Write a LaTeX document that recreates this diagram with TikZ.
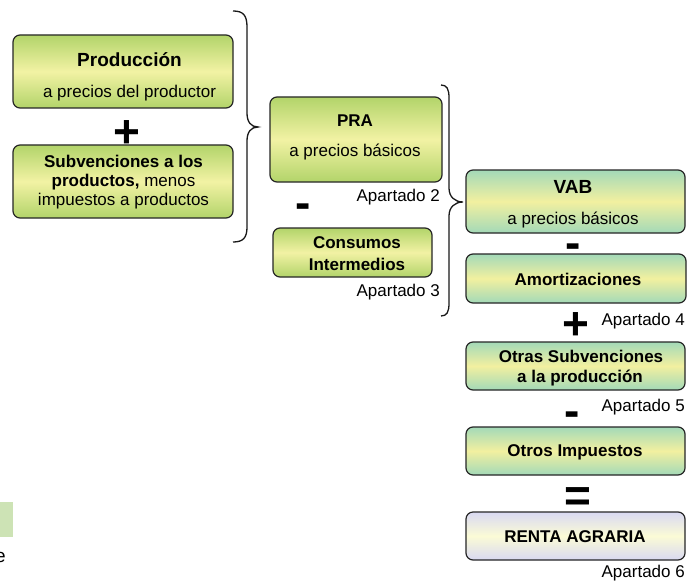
\documentclass[tikz,border=0pt]{standalone}
\usepackage{fontspec}
\setmainfont{Liberation Sans}
\definecolor{ygtop}{HTML}{B2D46A}
\definecolor{ygmid}{HTML}{F2F2A4}
\definecolor{tltop}{HTML}{A3D9B8}
\definecolor{tlmid}{HTML}{F2F0A0}
\definecolor{lvtop}{HTML}{D9D9F2}
\definecolor{lvmid}{HTML}{FBFBD6}
\definecolor{patch}{HTML}{CDE3B5}
\begin{document}
\begin{tikzpicture}[x=1pt,y=-1pt,
  box/.style={draw=black!85, line width=1.2pt, rounded corners=7pt, inner sep=0pt},
  yg/.style={box, top color=ygtop, bottom color=ygtop, middle color=ygmid},
  tl/.style={box, top color=tltop, bottom color=tltop, middle color=tlmid},
  lv/.style={box, top color=lvtop, bottom color=lvtop, middle color=lvmid},
  txt/.style={anchor=base, inner sep=0pt, font=\fontsize{17}{20}\selectfont},
  bt/.style={anchor=base, inner sep=0pt, font=\fontsize{17}{20}\selectfont\bfseries},
  big/.style={anchor=base, inner sep=0pt, font=\fontsize{19}{22}\selectfont\bfseries},
  op/.style={anchor=base, inner sep=0pt, font=\fontsize{46}{46}\selectfont\bfseries},
  lab/.style={anchor=base east, inner sep=0pt, font=\fontsize{17}{20}\selectfont},
  brace/.style={draw=black!90, line width=1.3pt}]
\fill[white] (0,0) rectangle (700,580);
\useasboundingbox (0,0) rectangle (700,580);

% left column
\node[yg, minimum width=220pt, minimum height=73pt] (prod) at (123,71.5) {};
\node[big] (prodT) at (129.5,67) {Producción};
\node[txt] (prodS) at (129.5,98) {a precios del productor};
\node[op] (plus1) at (127,148) {+};
\node[yg, minimum width=220pt, minimum height=73pt] (subv) at (123,181.5) {};
\node[bt] (subv1) at (123.5,167) {Subvenciones a los};
\node[txt] (subv2) at (123.5,186) {\textbf{productos,} menos};
\node[txt] (subv3) at (123.5,205) {impuestos a productos};

% brace 1
\draw[brace] (233,11) .. controls (243,11) and (247,15) .. (247,27) -- (247,113)
  .. controls (247,122) and (251,127) .. (258,127)
  .. controls (251,127) and (247,132) .. (247,141) -- (247,227)
  .. controls (247,238) and (243,242) .. (233,242);

% middle column
\node[yg, minimum width=172pt, minimum height=85pt] (pra) at (356,139.5) {};
\node[bt] (praT) at (355,127) {PRA};
\node[txt] (praS) at (355,157) {a precios básicos};
\node[lab] (ap2) at (440,201) {Apartado 2};
\node[op] (minus1) at (303,218) {-};
\node[yg, minimum width=159pt, minimum height=49pt] (cons) at (352.5,252.5) {};
\node[bt] (cons1) at (357,248) {Consumos};
\node[bt] (cons2) at (357,270) {Intermedios};
\node[lab] (ap3) at (440,296) {Apartado 3};

% brace 2
\draw[brace] (441,85) .. controls (447,85) and (449,89) .. (449,98) -- (449,188)
  .. controls (449,197) and (455,202) .. (463,202)
  .. controls (455,202) and (449,207) .. (449,216) -- (449,303)
  .. controls (449,312) and (447,316) .. (441,316);

% right column
\node[tl, minimum width=219pt, minimum height=63pt] (vab) at (575.5,201.5) {};
\node[big] (vabT) at (573,193) {VAB};
\node[txt] (vabS) at (573,224) {a precios básicos};
\node[op] (minus2) at (573.5,258) {-};
\node[tl, minimum width=220pt, minimum height=49pt] (amort) at (576,278.5) {};
\node[bt] (amortT) at (578,285) {Amortizaciones};
\node[op] (plus2) at (576,339) {+};
\node[lab] (ap4) at (685,325) {Apartado 4};
\node[tl, minimum width=219pt, minimum height=48pt] (otras) at (575.5,366) {};
\node[bt] (otras1) at (581,362) {Otras Subvenciones};
\node[bt] (otras2) at (580,382) {a la producción};
\node[lab] (ap5) at (685,411) {Apartado 5};
\node[op] (minus3) at (572,426.5) {-};
\node[tl, minimum width=219pt, minimum height=48pt] (imp) at (575.5,451) {};
\node[bt] (impT) at (575,456) {Otros Impuestos};
\node[op] (equals) at (578,511) {=};
\node[lv, minimum width=219pt, minimum height=48pt] (renta) at (575.5,536) {};
\node[bt] (rentaT) at (575,542) {RENTA AGRARIA};
\node[lab] (ap6) at (685,577) {Apartado 6};

% bottom-left fragments (cut off at the left edge)
\fill[patch] (0,502) rectangle (13,537);
\node[anchor=base east, inner sep=0pt, font=\fontsize{19}{22}\selectfont] (frag) at (6,562) {e};
\end{tikzpicture}
\end{document}
